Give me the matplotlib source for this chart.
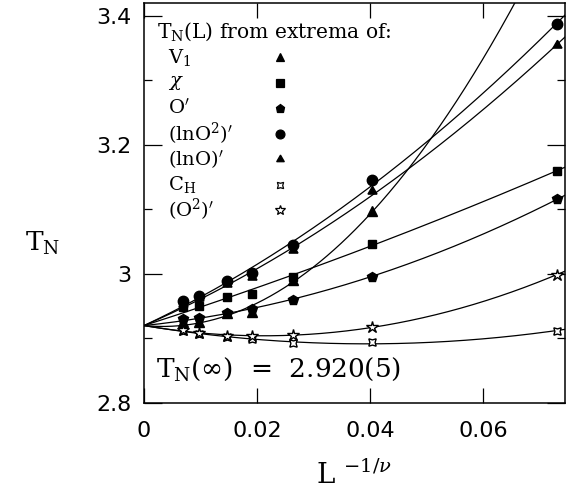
import numpy as np
import matplotlib
matplotlib.use("Agg")
import matplotlib.pyplot as plt
from matplotlib.ticker import MultipleLocator, FixedLocator

# ---------------- data ----------------
x_vals = [0.0069, 0.0097, 0.0147, 0.0192, 0.0264, 0.0404, 0.0731]
T_inf = 2.920
T_inf_err = 5

v1 = [2.925, 2.926, 2.940, 2.941, 2.990, 3.097]
chi = [2.949, 2.951, 2.964, 2.969, 2.996, 3.047, 3.160]
o_prime = [2.930, 2.932, 2.940, 2.946, 2.960, 2.996, 3.116]
ln_o2 = [2.958, 2.966, 2.989, 3.001, 3.045, 3.145, 3.388]
ln_o = [2.953, 2.962, 2.985, 2.996, 3.037, 3.128, 3.355]
c_h = [2.912, 2.907, 2.902, 2.899, 2.893, 2.894, 2.912]
o2_prime = [2.913, 2.909, 2.904, 2.904, 2.905, 2.918, 2.999]

labels = [r"$\mathrm{V_1}$", r"$\chi$", r"$\mathrm{O'}$", r"$(\mathrm{lnO^2})'$",
          r"$(\mathrm{lnO})'$", r"$\mathrm{C_H}$", r"$(\mathrm{O^2})'$"]
series = [v1, chi, o_prime, ln_o2, ln_o, c_h, o2_prime]

x_ticks = [0, 0.02, 0.04, 0.06]
x_ticklabels = ["0", "0.02", "0.04", "0.06"]
y_ticks = [2.8, 3.0, 3.2, 3.4]
y_ticklabels = ["2.8", "3", "3.2", "3.4"]

# ---------------- style ----------------
plt.rcParams["mathtext.fontset"] = "dejavuserif"
markers = ["^", "s", "p", "o", (3, 1, 0), (4, 1, 45), "*"]
msizes = [7, 6, 7.5, 7.5, 7.5, 7.5, 9]
faces = ["k", "k", "k", "k", "k", "white", "white"]

fig = plt.figure(figsize=(5.72, 4.91), dpi=100)
ax = fig.add_axes([144 / 572, 88 / 491, 421 / 572, 400 / 491])
ax.set_xlim(0, 0.0745)
ax.set_ylim(2.8, 3.42)

xx = np.linspace(0, 0.0745, 300)
for ys, m, ms, fc in zip(series, markers, msizes, faces):
    xs = np.array(x_vals[:len(ys)])
    dy = np.array(ys) - T_inf
    A = np.vstack([xs, xs ** 2]).T
    coef, *_ = np.linalg.lstsq(A, dy, rcond=None)
    ax.plot(xx, T_inf + coef[0] * xx + coef[1] * xx ** 2, color="k", lw=0.9)
    ax.plot(xs, ys, linestyle="none", marker=m, ms=ms, mfc=fc, mec="k", mew=1.0)

# legend (manual)
ax.text(13 / 421, 1 - 29 / 400, r"T$_\mathrm{N}$(L) from extrema of:", transform=ax.transAxes,
        family="DejaVu Serif", fontsize=14.6, va="center", ha="left")
for i, (lab, m, ms, fc) in enumerate(zip(labels, markers, msizes, faces)):
    yy = 1 - (54 + 25.5 * i) / 400
    ax.text(24 / 421, yy, lab, transform=ax.transAxes, fontsize=14, va="center", ha="left")
    ax.plot([136 / 421], [yy], transform=ax.transAxes, marker=m, ms=ms * 0.85,
            mfc=fc, mec="k", mew=0.9, linestyle="none")

ax.text(0.0022, 2.84, r"T$_\mathrm{N}$($\infty$)  =  " + f"{T_inf:.3f}({T_inf_err})",
        family="DejaVu Serif", fontsize=19, ha="left", va="baseline")

# axes styling
ax.xaxis.set_major_locator(FixedLocator(x_ticks))
ax.set_xticklabels(x_ticklabels)
ax.yaxis.set_major_locator(FixedLocator(y_ticks))
ax.set_yticklabels(y_ticklabels)
ax.yaxis.set_minor_locator(MultipleLocator(0.1))
ax.tick_params(which="both", direction="in", top=True, right=True, width=0.9, labelsize=16)
ax.tick_params(axis="x", which="major", length=11, pad=13)
ax.tick_params(axis="y", which="major", length=13, pad=9)
ax.tick_params(axis="y", which="minor", length=6)
for sp in ax.spines.values():
    sp.set_linewidth(1.1)

ax.set_xlabel(r"L $^{-1/\nu}$", family="DejaVu Serif", fontsize=20, labelpad=14)
ax.set_ylabel(r"T$_\mathrm{N}$", family="DejaVu Serif", fontsize=19, rotation=0,
              va="center", ha="center")
ax.yaxis.set_label_coords(-0.24, 0.40)

fig.savefig("out.png", dpi=100)
